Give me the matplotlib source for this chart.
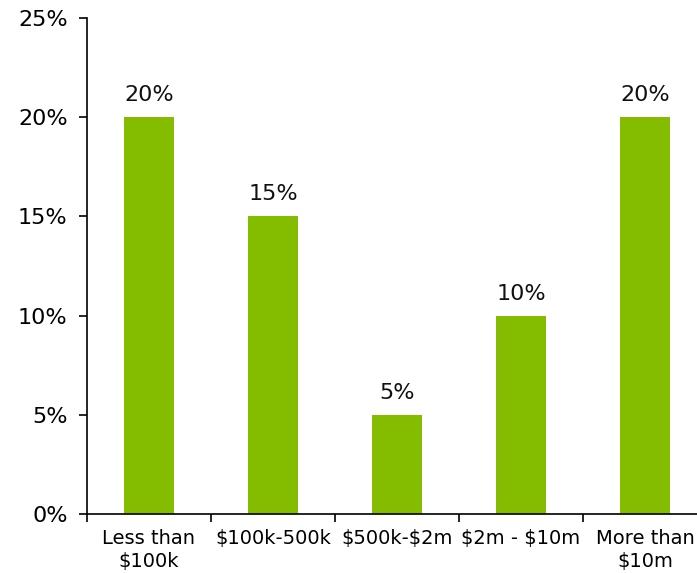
import matplotlib
matplotlib.use("Agg")
import matplotlib.pyplot as plt
from matplotlib.ticker import MultipleLocator, FixedLocator, NullFormatter

categories = ["Less than\n$100k", "$100k-500k", "$500k-$2m", "$2m - $10m", "More than\n$10m"]
shares = [20, 15, 5, 10, 20]

plt.rcParams["font.family"] = ["DejaVu Sans"]
plt.rcParams["text.parse_math"] = False

fig = plt.figure(figsize=(6.97, 5.73), dpi=100)
ax = fig.add_axes([87 / 697, 59 / 573, 620 / 697, 496 / 573])

x = list(range(len(categories)))
ax.bar(x, shares, width=0.4, color="#84BD00", zorder=2)

for xi, v in zip(x, shares):
    ax.text(xi, v + 0.6, f"{v}%", ha="center", va="bottom", fontsize=16, color="#111111")

ax.set_xlim(-0.5, len(categories) - 0.5)
ax.set_ylim(0, 25)
ax.yaxis.set_major_locator(MultipleLocator(5))
ax.set_yticklabels([f"{int(t)}%" for t in ax.get_yticks()], fontsize=16)

# category labels centred under bars, tick marks between categories
ax.set_xticks(x)
ax.set_xticklabels(categories, fontsize=14, linespacing=1.25)
ax.tick_params(axis="x", length=0, pad=11)
ax.xaxis.set_minor_locator(FixedLocator([i + 0.5 for i in range(-1, len(categories))]))
ax.xaxis.set_minor_formatter(NullFormatter())
ax.tick_params(axis="x", which="minor", length=6, width=1.2, direction="out")
ax.tick_params(axis="y", length=6, width=1.2, direction="out", pad=8)

for s in ["top", "right"]:
    ax.spines[s].set_visible(False)
for s in ["left", "bottom"]:
    ax.spines[s].set_linewidth(1.2)

fig.savefig("out.png", dpi=100)
